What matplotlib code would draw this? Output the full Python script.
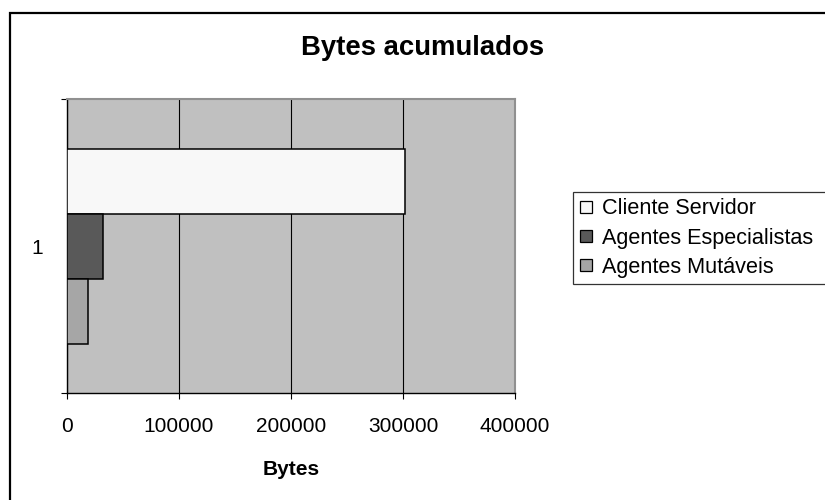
import matplotlib
matplotlib.use("Agg")
import matplotlib.pyplot as plt
from matplotlib.lines import Line2D
from matplotlib.patches import Rectangle

plt.rcParams['font.family'] = ['Liberation Sans', 'DejaVu Sans']

# Datos
series = ["Cliente Servidor", "Agentes Especialistas", "Agentes Mutáveis"]
valores = [302000, 32500, 19000]
colores = ["#f8f8f8", "#595959", "#a6a6a6"]
categoria = "1"
xticks = [0, 100000, 200000, 300000, 400000]

W, H = 825, 500
fig = plt.figure(figsize=(W / 100, H / 100), dpi=100)

# borde exterior del gráfico
fig.patches.append(Rectangle((10 / W, -0.1), 1.2, 1.1 - 13 / H, transform=fig.transFigure,
                             fill=False, edgecolor="black", linewidth=1.6))

ax = fig.add_axes([67 / W, 1 - 393 / H, 448 / W, 294 / H])
ax.set_facecolor("#c0c0c0")

h = 65 / 294
offsets = [h, 0, -h]
for nombre, v, c, off in zip(series, valores, colores, offsets):
    ax.barh(off, v, height=h, color=c, edgecolor="black", linewidth=1.1, label=nombre, zorder=3)

ax.set_xlim(0, 400000)
ax.set_ylim(-0.5, 0.5)
ax.set_xticks(xticks)
ax.set_xticklabels([str(t) for t in xticks], fontsize=15)
ax.xaxis.grid(True, color="black", linewidth=0.8, zorder=1)
ax.set_axisbelow(True)

ax.set_yticks([0])
ax.set_yticklabels([categoria], fontsize=15)
ax.tick_params(axis="y", length=0, pad=17)
ax.set_yticks([-0.5, 0.5], minor=True)
ax.tick_params(axis="y", which="minor", length=4.5, width=0.8, color="black")
ax.tick_params(axis="x", length=4.5, width=0.8, pad=13)

ax.spines["left"].set_color("black")
ax.spines["bottom"].set_color("black")
ax.spines["left"].set_linewidth(1.0)
ax.spines["bottom"].set_linewidth(1.0)
ax.spines["top"].set_color("#909090")
ax.spines["right"].set_color("#909090")
ax.spines["top"].set_linewidth(1.5)
ax.spines["right"].set_linewidth(1.5)

ax.set_xlabel("Bytes", fontsize=15, fontweight="bold", labelpad=17)
fig.text(423 / W, 1 - 48 / H, "Bytes acumulados", fontsize=19.8, fontweight="bold",
         ha="center", va="center")

# leyenda: el marco sigue más allá del borde derecho, como en el original
handles = [Line2D([], [], marker="s", linestyle="none", markersize=9,
                  markerfacecolor=c, markeredgecolor="black", markeredgewidth=0.9)
           for c in colores]
leg = fig.legend(handles, series, loc="upper left",
                 bbox_to_anchor=(573 / W, 1 - 192 / H, 270 / W, 0), mode="expand",
                 fontsize=15.6, frameon=True, fancybox=False, edgecolor="black",
                 handlelength=0.6, handletextpad=0.45, borderpad=0.3, labelspacing=0.38,
                 borderaxespad=0)
leg.get_frame().set_linewidth(0.9)

fig.savefig("out.png", dpi=100)
